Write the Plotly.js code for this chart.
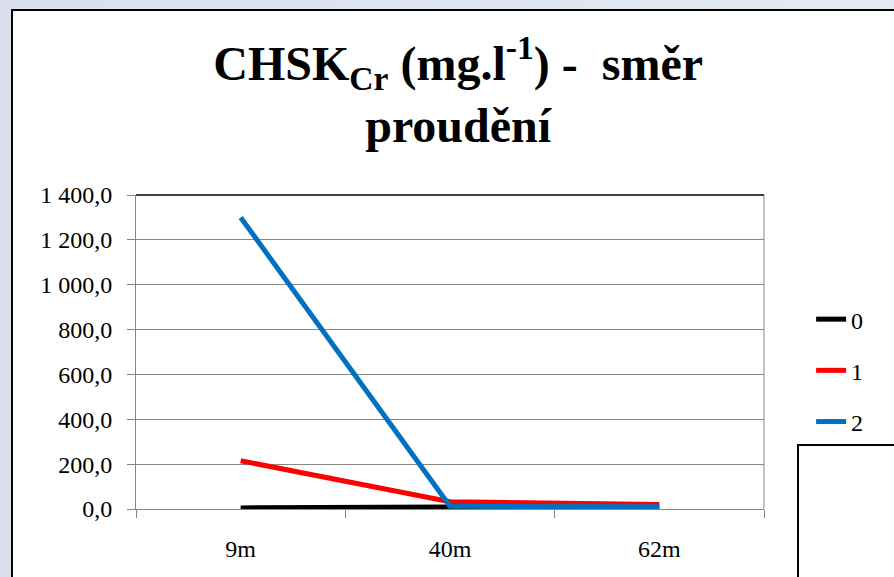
<!DOCTYPE html>
<html>
<head>
<meta charset="utf-8">
<script src="https://cdn.plot.ly/plotly-3.0.1.min.js"></script>
<style>
  html, body { margin: 0; padding: 0; width: 894px; height: 577px; overflow: hidden; }
  body { background: linear-gradient(90deg, #d9dfec 0%, #e4e9f3 100%); position: relative; }
  #frame { position: absolute; left: 11px; top: 9px; width: 1000px; height: 700px; background: #fff; border: 2px solid #000; box-sizing: border-box; }
  #box { position: absolute; left: 797px; top: 444px; width: 200px; height: 200px; background: #fff; border: 2px solid #000; box-sizing: border-box; }
  #chart { position: absolute; left: 0; top: 0; width: 894px; height: 577px; }
</style>
</head>
<body>
<div id="frame"></div>
<div id="chart"></div>
<div id="box"></div>
<script>
const categories = ['9m', '40m', '62m'];
const seriesNames = ['0', '1', '2'];
const series0 = [5, 9, 5];
const series1 = [215, 32, 20];
const series2 = [1300, 12, 10];
const seriesColors = ['#000000', '#ff0000', '#0070c0'];

const allSeries = [series0, series1, series2];
const traces = allSeries.map((vals, i) => ({
  type: 'scatter',
  mode: 'lines',
  x: categories,
  y: vals,
  name: seriesNames[i],
  legendgroup: 'g' + i,
  line: { color: seriesColors[i], width: 5 },
  hoverinfo: 'skip'
}));

const serif = 'Liberation Serif, DejaVu Serif, serif';
const layout = {
  width: 894,
  height: 577,
  margin: { l: 136, r: 130, t: 195, b: 68 },
  paper_bgcolor: 'rgba(0,0,0,0)',
  plot_bgcolor: '#ffffff',
  separators: ', ',
  font: { family: serif, color: '#000000', size: 24 },
  title: {
    text: '<b>CHSK<sub>Cr</sub> (mg.l<sup>-1</sup>) -&nbsp; směr<br>proudění</b>',
    font: { family: serif, size: 48, color: '#000000' },
    xref: 'paper',
    x: 0.513,
    xanchor: 'center',
    yref: 'container',
    y: 0.862,
    yanchor: 'top'
  },
  xaxis: {
    type: 'category',
    range: [-0.5, 2.5],
    tickson: 'boundaries',
    ticks: 'outside',
    ticklen: 8,
    tickcolor: '#868686',
    ticklabelstandoff: 18,
    showline: true,
    linecolor: '#868686',
    linewidth: 1,
    showgrid: false,
    zeroline: false,
    tickfont: { family: serif, size: 24 },
    fixedrange: true
  },
  yaxis: {
    range: [0, 1400],
    dtick: 200,
    tick0: 0,
    tickformat: ',.1f',
    ticks: 'outside',
    ticklen: 8,
    tickcolor: '#868686',
    ticklabelstandoff: 10,
    showline: true,
    linecolor: '#868686',
    linewidth: 1,
    showgrid: true,
    gridcolor: '#868686',
    gridwidth: 1,
    zeroline: false,
    tickfont: { family: serif, size: 24 },
    fixedrange: true
  },
  showlegend: true,
  legend: {
    x: 1.075,
    xanchor: 'left',
    y: 0.675,
    yanchor: 'top',
    tracegroupgap: 17,
    font: { family: serif, size: 24 },
    bgcolor: 'rgba(0,0,0,0)',
    itemwidth: 30
  },
  shapes: [
    { type: 'line', xref: 'paper', yref: 'paper', x0: 1, x1: 1, y0: 0, y1: 1, line: { color: '#868686', width: 1 } },
    { type: 'line', xref: 'paper', yref: 'paper', x0: 0, x1: 1, y0: 1, y1: 1, line: { color: '#000000', width: 1.5 } }
  ]
};

Plotly.newPlot('chart', traces, layout, { displayModeBar: false, staticPlot: true });
</script>
</body>
</html>
